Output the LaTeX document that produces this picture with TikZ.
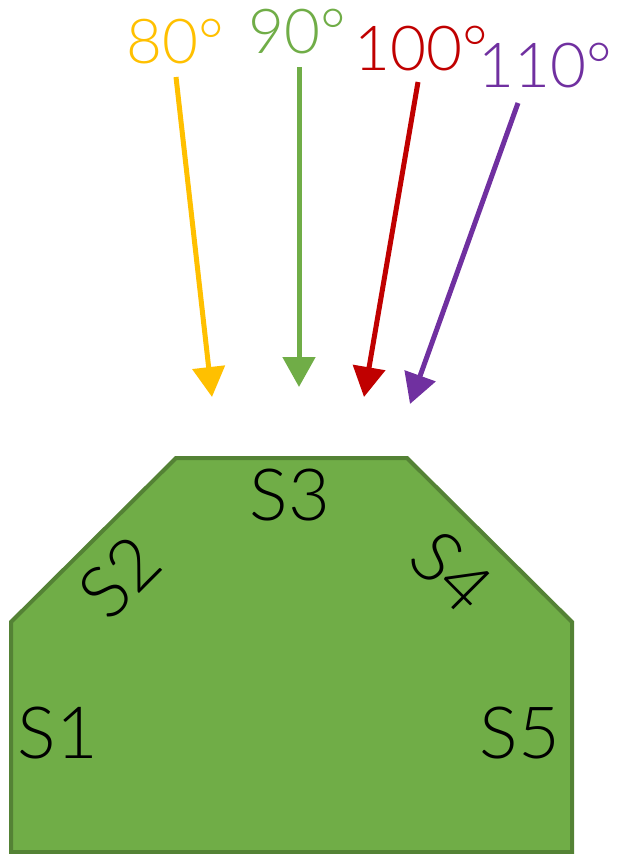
\documentclass[tikz,border=0pt]{standalone}
\usepackage{fontspec}
\setmainfont{Lato Light}
\usetikzlibrary{arrows.meta}
\definecolor{leafgreen}{HTML}{70AD47}
\definecolor{edgegreen}{HTML}{548235}
\definecolor{sunyellow}{HTML}{FFC000}
\definecolor{deepred}{HTML}{C00000}
\definecolor{plum}{HTML}{7030A0}
\tikzset{
  ray/.style={line width=5pt,-{Triangle[length=30pt,width=32pt]}},
  anglelbl/.style={font=\fontsize{62}{62}\selectfont,inner sep=0pt},
  sidelbl/.style={font=\fontsize{72}{72}\selectfont,inner sep=0pt,text=black}
}
\begin{document}
\begin{tikzpicture}[x=1pt,y=-1pt]
\useasboundingbox (0,0) rectangle (625,854);
\draw[line width=4pt,draw=edgegreen,fill=leafgreen,line join=miter]
  (11,852) -- (11,622) -- (176,458) -- (407,458) -- (572,622) -- (572,852) -- cycle;
\node[sidelbl] (s1) at (58,733) {S1};
\node[sidelbl,rotate=45] (s2) at (120,577) {S2};
\node[sidelbl] (s3) at (290,495) {S3};
\node[sidelbl,rotate=-45] (s4) at (452,572) {S4};
\node[sidelbl] (s5) at (520,733) {S5};
\node[anglelbl,text=sunyellow] (a80) at (175,42) {80°};
\node[anglelbl,text=leafgreen] (a90) at (297,32) {90°};
\node[anglelbl,text=deepred] (a100) at (421,49) {100°};
\node[anglelbl,text=plum] (a110) at (545,66) {110°};
\coordinate (f80) at (176,77);
\coordinate (t80) at (212,397);
\coordinate (f90) at (299,67);
\coordinate (t90) at (299,387);
\coordinate (f100) at (418,82);
\coordinate (t100) at (364,397);
\coordinate (f110) at (518,103);
\coordinate (t110) at (410,404);
\draw[ray,sunyellow] (f80) -- (t80);
\draw[ray,leafgreen] (f90) -- (t90);
\draw[ray,deepred] (f100) -- (t100);
\draw[ray,plum] (f110) -- (t110);
\end{tikzpicture}
\end{document}
